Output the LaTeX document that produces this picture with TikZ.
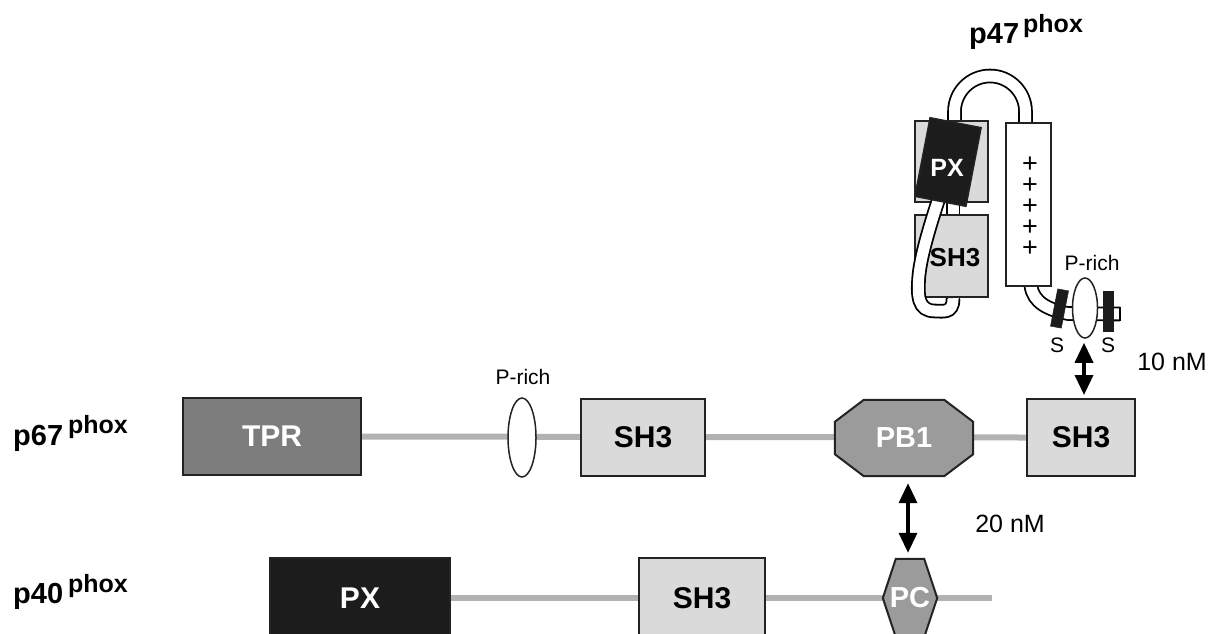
\documentclass[tikz,border=0pt]{standalone}
\usepackage{fontspec}
\setmainfont{Liberation Sans}
\usetikzlibrary{shapes.geometric,arrows.meta,backgrounds}
\definecolor{tprgray}{RGB}{125,125,125}
\definecolor{pbgray}{RGB}{155,155,155}
\definecolor{shgray}{RGB}{218,218,218}
\definecolor{linegray}{RGB}{178,178,178}
\definecolor{pxblack}{RGB}{28,28,28}
\definecolor{bord}{RGB}{35,35,35}
\newcommand\myfs[1]{\fontsize{#1}{#1}\selectfont}
\begin{document}
\begin{tikzpicture}[x=1pt,y=-1pt,
  dom/.style={draw=bord, line width=2pt, inner sep=0pt, font=\myfs{30}\bfseries},
  txtonly/.style={inner sep=0pt, font=\myfs{29}\bfseries},
  lab/.style={inner sep=0pt, font=\myfs{21}},
  nm/.style={inner sep=0pt, font=\myfs{25}},
  species/.style={anchor=base west, inner sep=0pt, font=\myfs{29}\bfseries},
  backbone/.style={draw=linegray, line width=6pt},
  poly/.style={draw=bord, line width=2pt},
  tube/.style={draw=black, line width=1.8pt, double=white, double distance=11pt},
  graybox/.style={draw=bord, fill=shgray, line width=1.6pt},
  sbar/.style={fill=pxblack, draw=pxblack, line width=0.5pt},
  dbl/.style={line width=3.5pt, {Triangle[length=20pt,width=18pt]}-{Triangle[length=20pt,width=18pt]}},
  prich/.style={ellipse, draw=bord, fill=white, line width=1.5pt, inner sep=0pt}
]
\useasboundingbox (0,0) rectangle (1214,633);

% ---------- species labels ----------
\node[species] (L47) at (969,43) {p47\hspace{4pt}\raisebox{11pt}{\myfs{25}phox}};
\node[species] (L67) at (13,445) {p67\hspace{5pt}\raisebox{12pt}{\myfs{25}phox}};
\node[species] (L40) at (13,603) {p40\hspace{5pt}\raisebox{11pt}{\myfs{25}phox}};

% ---------- p67 row ----------
\node[dom, fill=tprgray, text=white, minimum width=178pt, minimum height=77pt] (TPR) at (272,436.5) {TPR};
\node[prich, minimum width=28pt, minimum height=79pt] (PR67) at (522,437.5) {};
\node[lab] (PR67l) at (523,377) {P-rich};
\node[dom, fill=shgray, minimum width=124pt, minimum height=77pt] (SH3a) at (643,437.5) {SH3};
\node[txtonly, text=white, minimum width=138pt, minimum height=76pt] (PB1) at (904,438) {PB1};
\node[dom, fill=shgray, minimum width=108pt, minimum height=77pt] (SH3r) at (1081,437.5) {SH3};

% ---------- p40 row ----------
\node[dom, fill=pxblack, text=white, minimum width=180pt, minimum height=80pt] (PX40) at (360,598) {PX};
\node[dom, fill=shgray, minimum width=126pt, minimum height=80pt] (SH340) at (702,598) {SH3};
\node[txtonly, text=white, minimum width=54pt, minimum height=78pt] (PC) at (910,598) {PC};
\coordinate (p40end) at (992,598);

\begin{scope}[on background layer]
  \draw[backbone] (TPR.east) -- (SH3r.west);
  \draw[backbone] (PX40.east) -- (p40end);
  \filldraw[poly, fill=pbgray]
    ([xshift=29pt]PB1.north west) -- ([xshift=-29pt]PB1.north east)
    -- ([yshift=-22pt]PB1.north east) -- ([yshift=22pt]PB1.south east)
    -- ([xshift=-29pt]PB1.south east) -- ([xshift=29pt]PB1.south west)
    -- ([yshift=22pt]PB1.south west) -- ([yshift=-22pt]PB1.north west) -- cycle;
  \filldraw[poly, fill=pbgray]
    ([xshift=13pt]PC.north west) -- ([xshift=-13pt]PC.north east) -- (PC.east)
    -- ([xshift=-13pt]PC.south east) -- ([xshift=13pt]PC.south west) -- (PC.west) -- cycle;
\end{scope}

% ---------- p47 structure ----------
% arch tube
\draw[tube] (954.5,128) -- (954.5,111.5) .. controls (954.5,92) and (970.4,76) .. (990,76)
  .. controls (1009.6,76) and (1025.5,92) .. (1025.5,111.5) -- (1025.5,128);
% tube passing behind SH3
\draw[tube] (953,190) -- (953,300);
% tube to the P-rich tail
\draw[tube] (1031,278) -- (1031,286) .. controls (1033,302) and (1048,310) .. (1068,313.5) -- (1120,314);
\draw[line width=1.8pt] (1120,306.7) -- (1120,321.3);
% grey domains
\filldraw[graybox] (915,121) rectangle (988,202);
\filldraw[graybox] (915,215) rectangle (988,297);
% loop crossing over SH3
\draw[tube] (953,299) .. controls (953,314) and (942,311) .. (935,311)
  .. controls (918,311) and (917,296) .. (919,275) .. controls (921,255) and (930,225) .. (941,192);
% black PX (tilted)
\filldraw[draw=bord, fill=pxblack, line width=1.5pt] (930.1,117.7) -- (981.1,127.7) -- (965.9,206.3) -- (914.9,196.3) -- cycle;
\node[inner sep=0pt, font=\myfs{25}\bfseries, text=white] (PX47) at (947,168) {PX};
\node[inner sep=0pt, font=\myfs{26}\bfseries] (SH347) at (955,258) {SH3};
% charged region
\filldraw[draw=bord, fill=white, line width=1.5pt] (1006,123) rectangle (1051,286);
\node[inner sep=0pt, align=center, font=\fontsize{27}{21}\selectfont] (plus) at (1030,207) {+\\+\\+\\+\\+};
% P-rich and S sites
\node[prich, minimum width=25pt, minimum height=60pt] (PR47) at (1085,308) {};
\node[lab] (PR47l) at (1092,263) {P-rich};
\filldraw[sbar] (1057.7,288.9) -- (1068.5,290.9) -- (1061.3,328.1) -- (1050.5,326.1) -- cycle;
\filldraw[sbar] (1103,291) rectangle (1113,331);
\node[lab] (S1) at (1057,345) {S};
\node[lab] (S2) at (1108,345) {S};

% ---------- interactions ----------
\draw[dbl, shorten <=4pt, shorten >=3pt] ([xshift=-1pt]PR47.south) -- ([xshift=3pt]SH3r.north);
\node[nm] (n10) at (1172,362) {10 nM};
\draw[dbl, shorten <=7pt, shorten >=6pt] ([xshift=4pt]PB1.south) -- ([xshift=-2pt]PC.north);
\node[nm] (n20) at (1010,524) {20 nM};
\end{tikzpicture}
\end{document}
